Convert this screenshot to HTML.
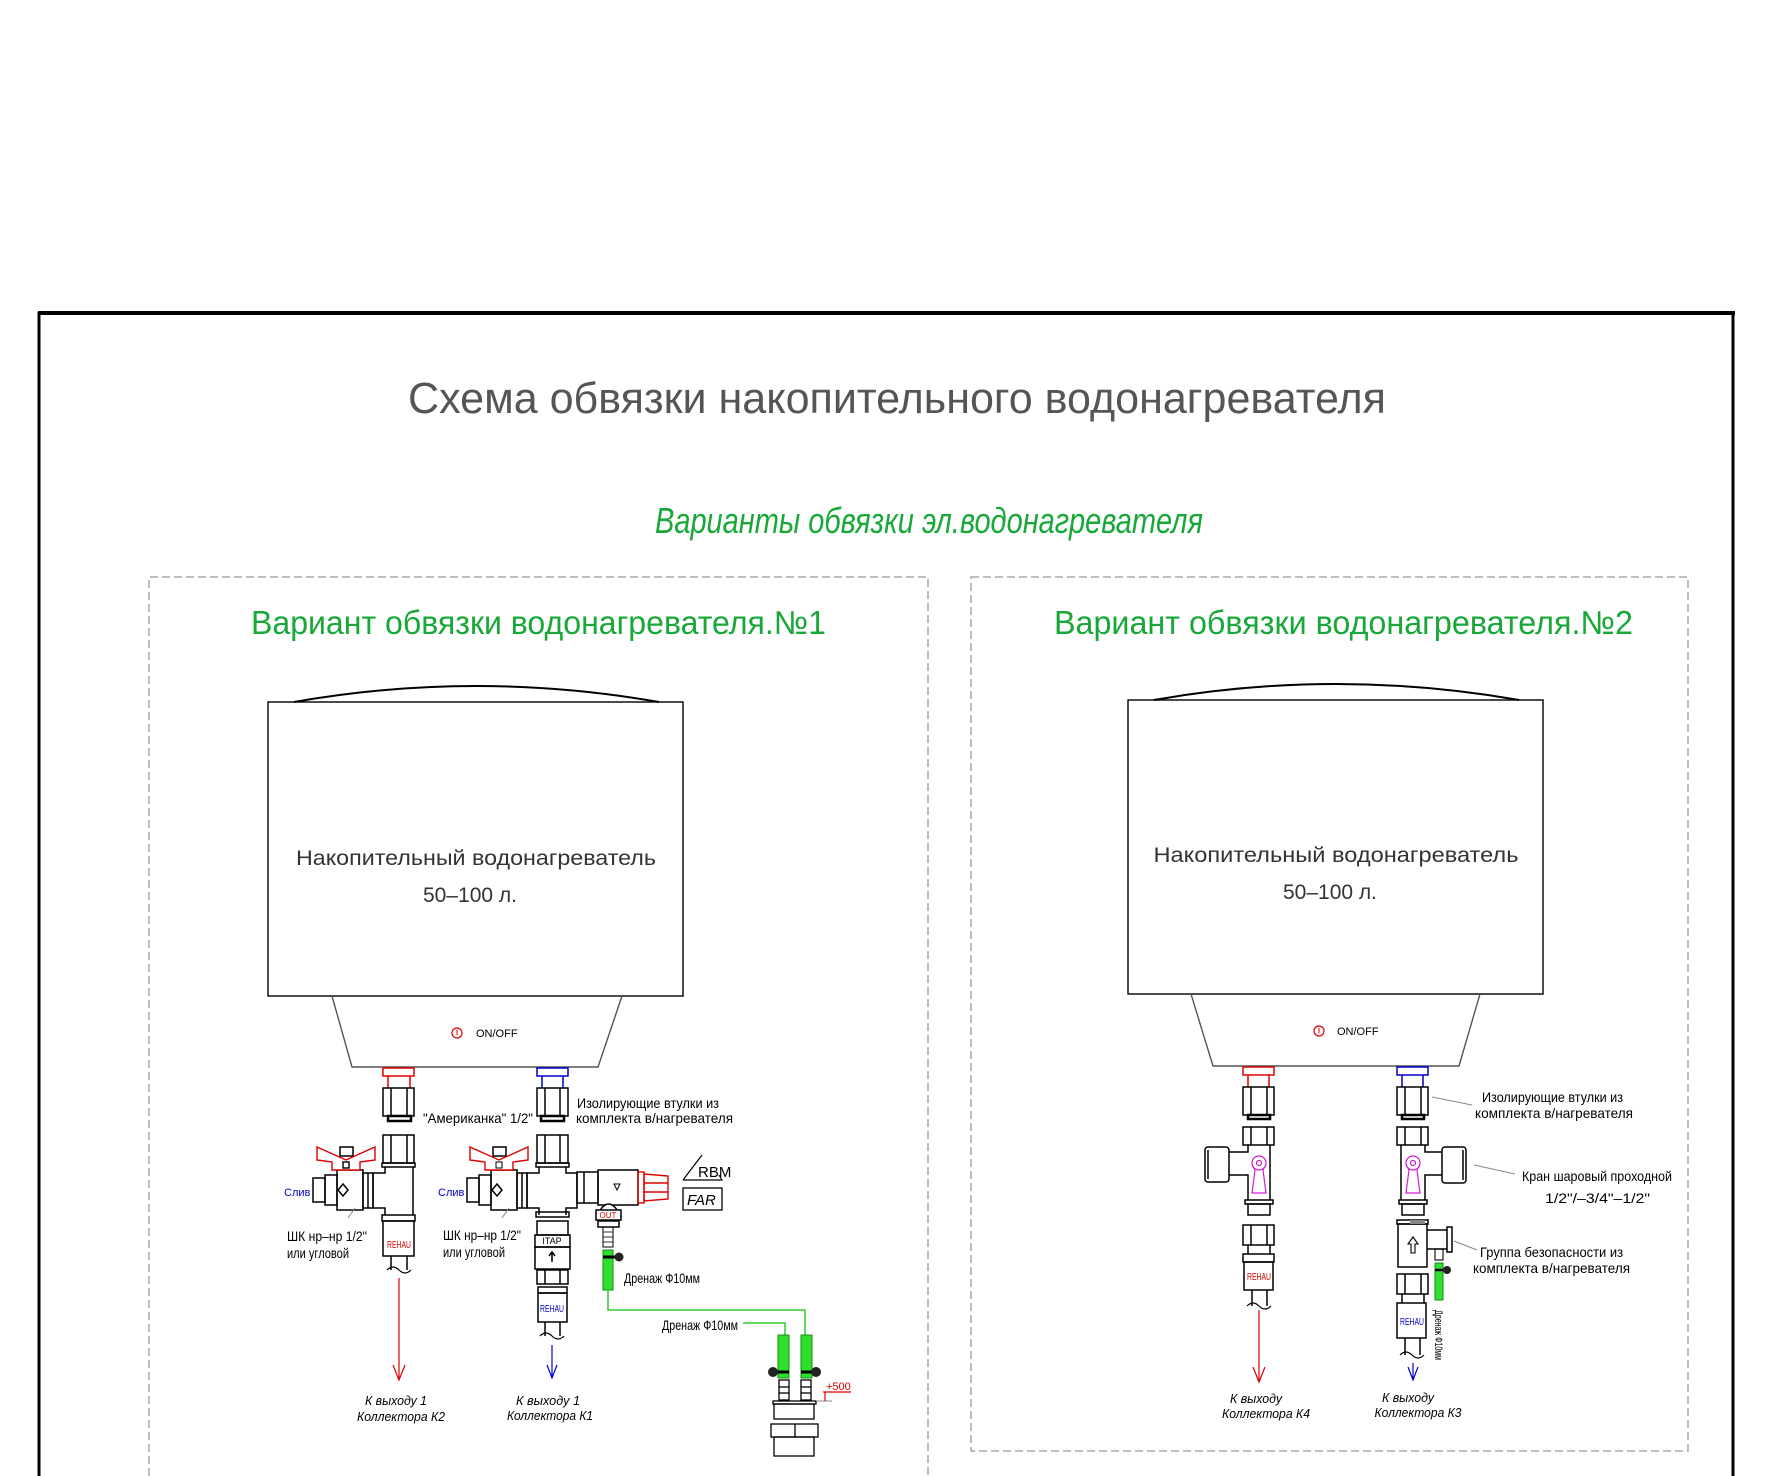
<!DOCTYPE html>
<html><head><meta charset="utf-8"><style>
html,body{margin:0;padding:0;background:#fff;}
svg{display:block;}
text{font-family:"Liberation Sans Narrow","Liberation Sans","DejaVu Sans",sans-serif;}
</style></head><body>
<svg width="1787" height="1476" viewBox="0 0 1787 1476" xmlns="http://www.w3.org/2000/svg">
<rect width="1787" height="1476" fill="#fff"/>
<line x1="38" y1="313" x2="1735" y2="313" stroke="#000" stroke-width="4"/>
<line x1="39" y1="312" x2="39" y2="1476" stroke="#000" stroke-width="3"/>
<line x1="1733" y1="312" x2="1733" y2="1476" stroke="#000" stroke-width="3"/>

<text x="408" y="413" font-size="44" fill="#555" textLength="978" lengthAdjust="spacingAndGlyphs">Схема  обвязки  накопительного  водонагревателя</text>
<text x="655" y="533" font-size="36" fill="#18a838" font-style="italic" textLength="548" lengthAdjust="spacingAndGlyphs">Варианты обвязки эл.водонагревателя</text>

<path d="M149 1476 V577 H928 V1476" fill="none" stroke="#999" stroke-width="1.3" stroke-dasharray="8,4"/>
<rect x="971" y="577" width="717" height="874" fill="none" stroke="#999" stroke-width="1.3" stroke-dasharray="8,4"/>

<text x="251" y="634" font-size="33" fill="#18a838" textLength="575" lengthAdjust="spacingAndGlyphs">Вариант обвязки водонагревателя.№1</text>
<text x="1054" y="634" font-size="33" fill="#18a838" textLength="579" lengthAdjust="spacingAndGlyphs">Вариант обвязки водонагревателя.№2</text>

<g fill="none" stroke="#000" stroke-width="1.4">
<rect x="268" y="702" width="415" height="294"/>
<path d="M294 702 Q476 670 659 702" stroke-width="2"/>
<path d="M332 996 L352 1067 L598 1067 L622 996" stroke="#555"/>
<rect x="1128" y="700" width="415" height="294"/>
<path d="M1154 700 Q1336 668 1519 700" stroke-width="2"/>
<path d="M1191 994 L1213 1066 L1459 1066 L1480 994" stroke="#555"/>
</g>
<text x="476" y="865" font-size="21" fill="#333" text-anchor="middle" textLength="360" lengthAdjust="spacingAndGlyphs">Накопительный  водонагреватель</text>
<text x="470" y="902" font-size="21" fill="#333" text-anchor="middle">50–100  л.</text>
<circle cx="457" cy="1033" r="5" fill="none" stroke="#d00" stroke-width="1.2"/><line x1="457" y1="1030" x2="457" y2="1035" stroke="#d00"/>
<text x="476" y="1037" font-size="11" fill="#000">ON/OFF</text>
<text x="1336" y="862" font-size="21" fill="#333" text-anchor="middle" textLength="365" lengthAdjust="spacingAndGlyphs">Накопительный  водонагреватель</text>
<text x="1330" y="899" font-size="21" fill="#333" text-anchor="middle">50–100  л.</text>
<circle cx="1319" cy="1031" r="5" fill="none" stroke="#d00" stroke-width="1.2"/><line x1="1319" y1="1028" x2="1319" y2="1033" stroke="#d00"/>
<text x="1337" y="1035" font-size="11" fill="#000">ON/OFF</text>

<g fill="none" stroke="#000" stroke-width="1.5">
<rect x="383" y="1068" width="31" height="8" stroke="#d00"/>
<line x1="388" y1="1076" x2="388" y2="1088" stroke="#d00"/><line x1="410" y1="1076" x2="410" y2="1088" stroke="#d00"/>
<rect x="383" y="1088" width="31" height="28"/><line x1="391" y1="1088" x2="391" y2="1116"/><line x1="407" y1="1088" x2="407" y2="1116"/>
<rect x="388" y="1116" width="23" height="5" stroke-width="2.5"/>
<rect x="383" y="1135" width="31" height="28"/><line x1="391" y1="1135" x2="391" y2="1163"/><line x1="407" y1="1135" x2="407" y2="1163"/>
<rect x="382" y="1163" width="33" height="4"/>
<path d="M385 1167 V1173 H373 V1208 H385 V1215 M413 1167 V1215"/>
<rect x="382" y="1215" width="33" height="6"/>
<rect x="383" y="1221" width="31" height="35"/>
<line x1="391" y1="1256" x2="391" y2="1270"/><line x1="407" y1="1256" x2="407" y2="1270"/>
<path d="M387 1270 q6 -6 12 0 t12 0" stroke-width="1.2"/>
<rect x="313" y="1178" width="12" height="24"/>
<rect x="325" y="1175" width="12" height="30"/>
<rect x="337" y="1170" width="26" height="40"/>
<path d="M343 1184 l5 6 l-5 6 l-5 -6z"/>
<rect x="363" y="1173" width="10" height="35"/>
<line x1="368" y1="1173" x2="368" y2="1208"/>
<rect x="340" y="1147" width="13" height="9"/>
</g>
<g fill="#fff" stroke="#d00" stroke-width="1.4">
<path d="M317 1147 L346 1160 L375 1147 L375 1160 L360 1162 L360 1170 L332 1170 L332 1162 L317 1160Z"/>
<rect x="343" y="1162" width="6" height="6" stroke="#000"/>
</g>
<text x="399" y="1248" font-size="10" fill="#d00" text-anchor="middle" textLength="24" lengthAdjust="spacingAndGlyphs">REHAU</text>
<line x1="399" y1="1278" x2="399" y2="1380" stroke="#d00" stroke-width="1.2"/>
<path d="M393 1365 L399 1380 L405 1365" fill="none" stroke="#d00" stroke-width="1.2"/>
<text x="284" y="1196" font-size="11" fill="#00c">Слив</text>
<line x1="348" y1="1218" x2="355" y2="1208" stroke="#888"/>
<text x="287" y="1241" font-size="14" fill="#000" textLength="80" lengthAdjust="spacingAndGlyphs">ШК нр–нр 1/2"</text>
<text x="287" y="1258" font-size="14" fill="#000" textLength="62" lengthAdjust="spacingAndGlyphs">или угловой</text>
<text x="396" y="1405" font-size="13" fill="#000" font-style="italic" text-anchor="middle" textLength="62" lengthAdjust="spacingAndGlyphs">К выходу 1</text>
<text x="401" y="1421" font-size="13" fill="#000" font-style="italic" text-anchor="middle" textLength="88" lengthAdjust="spacingAndGlyphs">Коллектора К2</text>

<g fill="none" stroke="#000" stroke-width="1.5">
<rect x="537" y="1068" width="31" height="8" stroke="#00c"/>
<line x1="542" y1="1076" x2="542" y2="1088" stroke="#00c"/><line x1="563" y1="1076" x2="563" y2="1088" stroke="#00c"/>
<rect x="537" y="1088" width="31" height="28"/><line x1="545" y1="1088" x2="545" y2="1116"/><line x1="560" y1="1088" x2="560" y2="1116"/>
<rect x="541" y="1116" width="23" height="5" stroke-width="2.5"/>
<rect x="537" y="1135" width="31" height="28"/><line x1="545" y1="1135" x2="545" y2="1163"/><line x1="560" y1="1135" x2="560" y2="1163"/>
<rect x="536" y="1163" width="33" height="4"/>
<path d="M539 1167 V1173 H527 V1208 H539 V1215 M566 1167 V1173 H577 V1208 H566 V1215"/>
<rect x="536" y="1212" width="33" height="5"/>
<rect x="537" y="1221" width="31" height="14"/>
<rect x="535" y="1235" width="35" height="12"/>
<rect x="535" y="1247" width="35" height="22"/>
<path d="M552 1252 v10 M549 1256 l3 -4 l3 4"/>
<rect x="537" y="1270" width="31" height="14"/><line x1="545" y1="1270" x2="545" y2="1284"/><line x1="560" y1="1270" x2="560" y2="1284"/>
<rect x="538" y="1287" width="29" height="6"/>
<rect x="538" y="1293" width="29" height="29"/>
<line x1="545" y1="1322" x2="545" y2="1336"/><line x1="560" y1="1322" x2="560" y2="1336"/>
<path d="M540 1336 q6 -6 12 0 t12 0" stroke-width="1.2"/>
<rect x="467" y="1178" width="12" height="24"/>
<rect x="479" y="1175" width="12" height="30"/>
<rect x="491" y="1170" width="26" height="40"/>
<path d="M497 1184 l5 6 l-5 6 l-5 -6z"/>
<rect x="517" y="1173" width="10" height="35"/>
<line x1="522" y1="1173" x2="522" y2="1208"/>
<rect x="493" y="1147" width="13" height="9"/>
<rect x="577" y="1172" width="21" height="31"/><line x1="584" y1="1172" x2="584" y2="1203"/>
<rect x="598" y="1170" width="40" height="35"/>
<path d="M614 1184 l3 6 l3 -6z" stroke-width="1"/>
<path d="M597 1216 Q608 1192 621 1216 Z" fill="#fff"/>
<rect x="596" y="1210" width="25" height="10" fill="#fff"/>
<rect x="598" y="1221" width="21" height="6"/>
<rect x="603" y="1227" width="10" height="20" stroke-width="1"/>
<line x1="603" y1="1232" x2="613" y2="1232" stroke-width="0.8"/><line x1="603" y1="1237" x2="613" y2="1237" stroke-width="0.8"/><line x1="603" y1="1242" x2="613" y2="1242" stroke-width="0.8"/>
</g>
<g fill="none" stroke="#d00" stroke-width="1.4">
<path d="M470 1147 L499 1160 L528 1147 L528 1160 L513 1162 L513 1170 L485 1170 L485 1162 L470 1160Z" fill="#fff"/>
<rect x="638" y="1172" width="6" height="31"/>
<path d="M644 1174 L668 1176 L668 1199 L644 1201Z"/>
<line x1="644" y1="1183" x2="668" y2="1183"/><line x1="644" y1="1192" x2="668" y2="1192"/>
</g>
<rect x="496" y="1162" width="6" height="6" fill="#fff" stroke="#000"/>
<text x="608" y="1218" font-size="8" fill="#d00" text-anchor="middle">OUT</text>
<text x="552" y="1244" font-size="9" fill="#000" text-anchor="middle">ITAP</text>
<text x="552" y="1312" font-size="10" fill="#00c" text-anchor="middle" textLength="24" lengthAdjust="spacingAndGlyphs">REHAU</text>
<line x1="552" y1="1345" x2="552" y2="1378" stroke="#00c" stroke-width="1.2"/>
<path d="M547 1365 L552 1378 L557 1365" fill="none" stroke="#00c" stroke-width="1.2"/>
<text x="438" y="1196" font-size="11" fill="#00c">Слив</text>
<line x1="502" y1="1218" x2="509" y2="1208" stroke="#888"/>
<text x="443" y="1240" font-size="14" fill="#000" textLength="78" lengthAdjust="spacingAndGlyphs">ШК нр–нр 1/2"</text>
<text x="443" y="1257" font-size="14" fill="#000" textLength="62" lengthAdjust="spacingAndGlyphs">или угловой</text>
<text x="423" y="1123" font-size="14" fill="#000" textLength="110" lengthAdjust="spacingAndGlyphs">"Американка" 1/2"</text>
<text x="577" y="1108" font-size="14" fill="#000" textLength="142" lengthAdjust="spacingAndGlyphs">Изолирующие втулки из</text>
<text x="576" y="1123" font-size="14" fill="#000" textLength="157" lengthAdjust="spacingAndGlyphs">комплекта в/нагревателя</text>
<text x="548" y="1405" font-size="13" fill="#000" font-style="italic" text-anchor="middle" textLength="64" lengthAdjust="spacingAndGlyphs">К выходу 1</text>
<text x="550" y="1420" font-size="13" fill="#000" font-style="italic" text-anchor="middle" textLength="86" lengthAdjust="spacingAndGlyphs">Коллектора К1</text>
<path d="M683 1180 L702 1155 M683 1180 H722 L719 1175" fill="none" stroke="#000" stroke-width="1.2"/>
<text x="698" y="1177" font-size="15" fill="#000">RBM</text>
<rect x="683" y="1188" width="39" height="22" fill="none" stroke="#000" stroke-width="1.3"/>
<text x="687" y="1205" font-size="15" fill="#000" font-style="italic">FAR</text>

<rect x="603" y="1250" width="10" height="40" fill="#2ee02e" stroke="#1a8a1a"/>
<line x1="603" y1="1257" x2="618" y2="1257" stroke="#000" stroke-width="3"/><circle cx="619" cy="1257" r="4.5" fill="#222"/>
<text x="624" y="1283" font-size="14" fill="#000" textLength="76" lengthAdjust="spacingAndGlyphs">Дренаж Ф10мм</text>
<path d="M608 1290 V1310 H805 V1335" fill="none" stroke="#2ecc2e" stroke-width="1.5"/>
<path d="M743 1323 H785 V1335" fill="none" stroke="#2ecc2e" stroke-width="1.5"/>
<text x="662" y="1330" font-size="14" fill="#000" textLength="76" lengthAdjust="spacingAndGlyphs">Дренаж Ф10мм</text>
<rect x="778" y="1335" width="11" height="43" fill="#2ee02e" stroke="#1a8a1a"/>
<rect x="801" y="1335" width="11" height="43" fill="#2ee02e" stroke="#1a8a1a"/>
<line x1="773" y1="1372" x2="789" y2="1372" stroke="#000" stroke-width="3"/><circle cx="773" cy="1372" r="5" fill="#222"/>
<line x1="801" y1="1372" x2="816" y2="1372" stroke="#000" stroke-width="3"/><circle cx="816" cy="1372" r="5" fill="#222"/>
<g fill="none" stroke="#000" stroke-width="1.3">
<rect x="779" y="1380" width="10" height="20"/><rect x="801" y="1380" width="10" height="20"/>
<line x1="779" y1="1387" x2="789" y2="1387"/><line x1="779" y1="1393" x2="789" y2="1393"/>
<line x1="801" y1="1387" x2="811" y2="1387"/><line x1="801" y1="1393" x2="811" y2="1393"/>
<rect x="773" y="1401" width="43" height="3"/>
<rect x="774" y="1404" width="40" height="15"/>
<rect x="771" y="1424" width="47" height="13"/><line x1="795" y1="1424" x2="795" y2="1437"/>
<rect x="774" y="1437" width="40" height="19"/>
</g>
<line x1="816" y1="1401" x2="832" y2="1401" stroke="#888"/>
<path d="M823 1392 H851 M825 1392 V1401" fill="none" stroke="#d00" stroke-width="1.2"/>
<text x="826" y="1390" font-size="11" fill="#d00">+500</text>

<g fill="none" stroke="#000" stroke-width="1.5">
<rect x="1243" y="1067" width="31" height="8" stroke="#d00"/>
<line x1="1248" y1="1075" x2="1248" y2="1087" stroke="#d00"/><line x1="1269" y1="1075" x2="1269" y2="1087" stroke="#d00"/>
<rect x="1243" y="1087" width="31" height="28"/><line x1="1251" y1="1087" x2="1251" y2="1115"/><line x1="1267" y1="1087" x2="1267" y2="1115"/>
<rect x="1248" y="1115" width="22" height="4" stroke-width="2.5"/>
<rect x="1243" y="1127" width="31" height="18"/><line x1="1251" y1="1127" x2="1251" y2="1145"/><line x1="1267" y1="1127" x2="1267" y2="1145"/>
<path d="M1248 1145 V1152 H1229 M1229 1175 H1248 V1200 M1270 1145 V1200"/>
<rect x="1205" y="1147" width="24" height="35" rx="3"/><line x1="1208" y1="1150" x2="1208" y2="1179"/>
<rect x="1245" y="1200" width="28" height="4"/>
<rect x="1248" y="1204" width="22" height="11"/>
<rect x="1243" y="1225" width="31" height="20"/><line x1="1251" y1="1225" x2="1251" y2="1245"/><line x1="1267" y1="1225" x2="1267" y2="1245"/>
<path d="M1248 1245 V1254 M1270 1245 V1254"/>
<rect x="1243" y="1254" width="31" height="8"/>
<rect x="1244" y="1262" width="29" height="28"/>
<line x1="1252" y1="1290" x2="1252" y2="1306"/><line x1="1267" y1="1290" x2="1267" y2="1306"/>
<path d="M1247 1306 q6 -6 12 0 t12 0" stroke-width="1.2"/>
</g>
<g fill="none" stroke="#d020d0" stroke-width="1.2">
<circle cx="1259" cy="1163" r="7"/><circle cx="1259" cy="1163" r="2.5"/>
<path d="M1252 1165 L1255 1170 L1252 1193 L1266 1193 L1263 1170 L1266 1165"/>
</g>
<text x="1259" y="1280" font-size="10" fill="#d00" text-anchor="middle" textLength="24" lengthAdjust="spacingAndGlyphs">REHAU</text>
<line x1="1259" y1="1310" x2="1259" y2="1382" stroke="#d00" stroke-width="1.2"/>
<path d="M1253 1367 L1259 1382 L1265 1367" fill="none" stroke="#d00" stroke-width="1.2"/>
<text x="1256" y="1403" font-size="13" fill="#000" font-style="italic" text-anchor="middle" textLength="52" lengthAdjust="spacingAndGlyphs">К выходу</text>
<text x="1266" y="1418" font-size="13" fill="#000" font-style="italic" text-anchor="middle" textLength="88" lengthAdjust="spacingAndGlyphs">Коллектора К4</text>

<g fill="none" stroke="#000" stroke-width="1.5">
<rect x="1397" y="1067" width="31" height="8" stroke="#00c"/>
<line x1="1402" y1="1075" x2="1402" y2="1087" stroke="#00c"/><line x1="1423" y1="1075" x2="1423" y2="1087" stroke="#00c"/>
<rect x="1397" y="1087" width="31" height="28"/><line x1="1405" y1="1087" x2="1405" y2="1115"/><line x1="1421" y1="1087" x2="1421" y2="1115"/>
<rect x="1402" y="1115" width="22" height="4" stroke-width="2.5"/>
<rect x="1397" y="1127" width="31" height="18"/><line x1="1405" y1="1127" x2="1405" y2="1145"/><line x1="1421" y1="1127" x2="1421" y2="1145"/>
<path d="M1401 1145 V1200 M1425 1145 V1152 H1442 M1442 1175 H1425 V1200"/>
<rect x="1442" y="1147" width="24" height="36" rx="3"/><line x1="1463" y1="1150" x2="1463" y2="1180"/>
<rect x="1399" y="1200" width="28" height="4"/>
<rect x="1402" y="1204" width="22" height="11"/>
<rect x="1397" y="1220" width="31" height="4"/>
<rect x="1398" y="1224" width="29" height="43"/>
<path d="M1427 1230 H1447 M1427 1249 H1447" />
<rect x="1447" y="1227" width="5" height="25"/>
<path d="M1413 1237 l-5 7 h3 v9 h4 v-9 h3z" stroke-width="1.1"/>
<rect x="1435" y="1249" width="8" height="11" stroke-width="1.1"/>
<rect x="1397" y="1274" width="31" height="20"/><line x1="1405" y1="1274" x2="1405" y2="1294"/><line x1="1421" y1="1274" x2="1421" y2="1294"/>
<path d="M1402 1294 V1303 M1424 1294 V1303"/>
<rect x="1397" y="1303" width="29" height="35"/>
<line x1="1405" y1="1338" x2="1405" y2="1355"/><line x1="1420" y1="1338" x2="1420" y2="1355"/>
<path d="M1400 1355 q6 -6 12 0 t12 0" stroke-width="1.2"/>
</g>
<rect x="1410" y="1220" width="15" height="4" fill="#888"/>
<g fill="none" stroke="#d020d0" stroke-width="1.2">
<circle cx="1413" cy="1163" r="7"/><circle cx="1413" cy="1163" r="2.5"/>
<path d="M1406 1165 L1409 1170 L1406 1193 L1420 1193 L1417 1170 L1420 1165"/>
</g>
<rect x="1435" y="1263" width="8" height="37" fill="#2ee02e" stroke="#1a8a1a"/>
<line x1="1435" y1="1270" x2="1447" y2="1270" stroke="#000" stroke-width="2.5"/><circle cx="1447" cy="1270" r="4" fill="#222"/>
<text x="1412" y="1325" font-size="10" fill="#00c" text-anchor="middle" textLength="24" lengthAdjust="spacingAndGlyphs">REHAU</text>
<line x1="1413" y1="1363" x2="1413" y2="1380" stroke="#00c" stroke-width="1.2"/>
<path d="M1408 1367 L1413 1380 L1418 1367" fill="none" stroke="#00c" stroke-width="1.2"/>
<text transform="translate(1435,1310) rotate(90)" font-size="11" fill="#000" textLength="50" lengthAdjust="spacingAndGlyphs">Дренаж Ф10мм</text>
<line x1="1432" y1="1097" x2="1472" y2="1105" stroke="#888"/>
<text x="1482" y="1102" font-size="14" fill="#000" textLength="141" lengthAdjust="spacingAndGlyphs">Изолирующие втулки из</text>
<text x="1475" y="1118" font-size="14" fill="#000" textLength="158" lengthAdjust="spacingAndGlyphs">комплекта в/нагревателя</text>
<line x1="1474" y1="1165" x2="1515" y2="1174" stroke="#888"/>
<text x="1522" y="1181" font-size="14" fill="#000" textLength="150" lengthAdjust="spacingAndGlyphs">Кран шаровый проходной</text>
<text x="1545" y="1203" font-size="14" fill="#000" textLength="105" lengthAdjust="spacingAndGlyphs">1/2"/–3/4"–1/2"</text>
<line x1="1454" y1="1241" x2="1477" y2="1250" stroke="#888"/>
<text x="1480" y="1257" font-size="14" fill="#000" textLength="143" lengthAdjust="spacingAndGlyphs">Группа безопасности из</text>
<text x="1473" y="1273" font-size="14" fill="#000" textLength="157" lengthAdjust="spacingAndGlyphs">комплекта в/нагревателя</text>
<text x="1408" y="1402" font-size="13" fill="#000" font-style="italic" text-anchor="middle" textLength="52" lengthAdjust="spacingAndGlyphs">К выходу</text>
<text x="1418" y="1417" font-size="13" fill="#000" font-style="italic" text-anchor="middle" textLength="87" lengthAdjust="spacingAndGlyphs">Коллектора К3</text>
</svg>
</body></html>
